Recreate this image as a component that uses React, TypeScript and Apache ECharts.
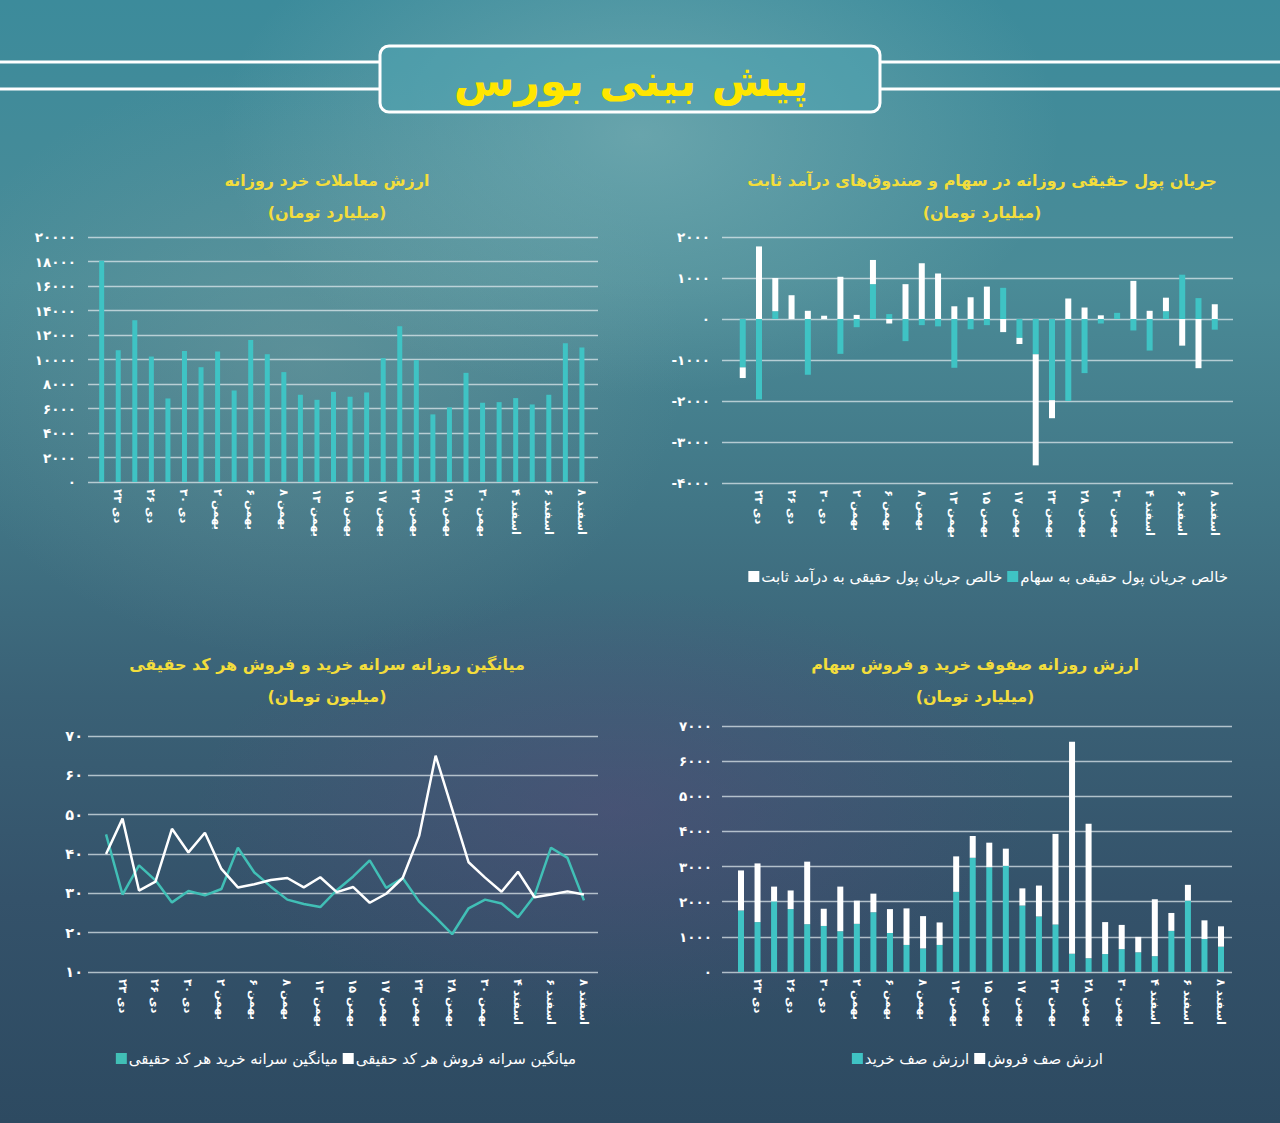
import React, { useEffect, useRef } from "react";
import * as echarts from "echarts";

const categories = [
  "۲۲ دی", "۲۳ دی", "۲۵ دی", "۲۶ دی", "۲۹ دی", "۳۰ دی",
  "۱ بهمن", "۲ بهمن", "۳ بهمن", "۶ بهمن", "۷ بهمن", "۸ بهمن",
  "۱۰ بهمن", "۱۳ بهمن", "۱۴ بهمن", "۱۵ بهمن", "۱۶ بهمن", "۱۷ بهمن",
  "۲۱ بهمن", "۲۳ بهمن", "۲۴ بهمن", "۲۸ بهمن", "۲۹ بهمن", "۳۰ بهمن",
  "۱ اسفند", "۴ اسفند", "۵ اسفند", "۶ اسفند", "۷ اسفند", "۸ اسفند",
];

// Chart 1: retail trading value (billion toman)
const retailValue = [
  18070, 10760, 13200, 10240, 6820, 10700, 9370, 10650, 7470, 11600,
  10430, 8970, 7120, 6710, 7360, 6960, 7310, 10110, 12720, 9950,
  5520, 6090, 8910, 6470, 6520, 6850, 6330, 7120, 11330, 10980,
];

// Chart 2: net real money flow (billion toman)
const flowStocks = [
  -1180, -1960, 190, 0, -1360, 0, -850, -200, 850, 120,
  -540, -150, -180, -1190, -250, -150, 760, -460, -860, -1980,
  -2000, -1320, -110, 150, -280, -770, 190, 1080, 510, -260,
];
const flowFixedIncome = [
  -260, 1770, 810, 580, 200, 80, 1030, 100, 590, -110,
  850, 1360, 1110, 310, 530, 790, -320, -150, -2710, -440,
  500, 280, 90, 0, 930, 200, 330, -650, -1200, 360,
];

// Chart 3: average per-capita buy / sell (million toman)
const avgBuy = [
  45.0, 29.7, 37.1, 33.3, 27.7, 30.6, 29.5, 31.1, 41.6, 35.3,
  31.7, 28.4, 27.3, 26.5, 30.8, 34.3, 38.4, 31.4, 33.9, 27.9,
  23.9, 19.6, 26.2, 28.4, 27.4, 23.9, 29.4, 41.6, 39.0, 28.2,
];
const avgSell = [
  40.0, 49.0, 30.7, 33.0, 46.4, 40.4, 45.4, 36.2, 31.5, 32.3,
  33.4, 33.9, 31.5, 34.1, 30.3, 31.6, 27.6, 29.9, 33.9, 44.6,
  65.0, 51.4, 37.9, 34.0, 30.4, 35.5, 29.0, 29.7, 30.5, 29.7,
];

// Chart 4: buy / sell queue value (billion toman)
const queueBuy = [
  1750, 1420, 2010, 1790, 1360, 1310, 1160, 1370, 1700, 1110,
  770, 670, 770, 2280, 3250, 2980, 3020, 1890, 1580, 1350,
  520, 390, 510, 650, 560, 450, 1170, 2030, 940, 720,
];
const queueSell = [
  1140, 1670, 420, 530, 1780, 490, 1270, 660, 530, 680,
  1040, 920, 640, 1010, 620, 700, 490, 490, 880, 2580,
  6030, 3830, 910, 690, 440, 1620, 510, 450, 530, 580,
];

const TEAL = "#3fc3c4";
const LINE_TEAL = "#41bfb6";
const FONT = "'DejaVu Sans', sans-serif";
const YELLOW = "#f3dd3c";

const toFa = (v: number | string) =>
  String(v).replace(/\d/g, (d) => "۰۱۲۳۴۵۶۷۸۹"[Number(d)]);

type Box = { left: number; width: number; top: number; height: number };

function frameAxes(
  grid: Box,
  gridIndex: number,
  min: number,
  max: number,
  interval: number,
  labelSize: number,
  labelMargin: number
) {
  return {
    grid: { left: grid.left, width: grid.width, top: grid.top, height: grid.height },
    xAxis: { type: "value", gridIndex, show: false, min: 0, max: 1 },
    yAxis: {
      type: "value",
      gridIndex,
      min,
      max,
      interval,
      axisLine: { show: false },
      axisTick: { show: false },
      axisLabel: {
        color: "#ffffff",
        fontFamily: FONT,
        fontWeight: "bold",
        fontSize: labelSize,
        margin: labelMargin,
        formatter: (v: number) => toFa(v),
      },
      splitLine: { lineStyle: { color: "rgba(225,234,238,0.72)", width: 1.3 } },
    },
  };
}

function plotAxes(
  left: number,
  width: number,
  frame: Box,
  gridIndex: number,
  min: number,
  max: number
) {
  return {
    grid: { left, width, top: frame.top, height: frame.height },
    xAxis: {
      type: "category",
      gridIndex,
      data: categories,
      boundaryGap: true,
      axisLine: { show: false },
      axisTick: { show: false },
      splitLine: { show: false },
      axisLabel: {
        color: "#ffffff",
        fontFamily: FONT,
        fontSize: 11.5,
        fontWeight: "bold",
        rotate: -90,
        margin: 7,
        interval: (index: number) => index % 2 === 1,
      },
    },
    yAxis: { type: "value", gridIndex, min, max, show: false, splitLine: { show: false } },
  };
}

export default function App() {
  const ref = useRef<HTMLDivElement>(null);

  useEffect(() => {
    if (!ref.current) return;
    const chart = echarts.init(ref.current, undefined, { renderer: "svg" });

    const f1: Box = { left: 88, width: 510, top: 237, height: 245 };
    const f2: Box = { left: 722, width: 511, top: 237, height: 246 };
    const f3: Box = { left: 88, width: 510, top: 736, height: 236 };
    const f4: Box = { left: 722, width: 510, top: 726, height: 246 };

    const parts = [
      frameAxes(f1, 0, 0, 20000, 2000, 13.5, 12),
      plotAxes(93.4, 496.8, f1, 1, 0, 20000),
      frameAxes(f2, 2, -4000, 2000, 1000, 13.5, 12),
      plotAxes(734.6, 488.3, f2, 3, -4000, 2000),
      frameAxes(f3, 4, 10, 70, 10, 14.5, 5),
      plotAxes(97.8, 494.4, f3, 5, 10, 70),
      frameAxes(f4, 6, 0, 7000, 1000, 13.5, 10),
      plotAxes(732.7, 496.6, f4, 7, 0, 7000),
    ];

    const nStocks = "خالص جریان پول حقیقی به سهام";
    const nFixed = "خالص جریان پول حقیقی به درآمد ثابت";
    const nBuyAvg = "میانگین سرانه خرید هر کد حقیقی";
    const nSellAvg = "میانگین سرانه فروش هر کد حقیقی";
    const nBuyQ = "ارزش صف خرید";
    const nSellQ = "ارزش صف فروش";

    const legendBase = {
      orient: "horizontal",
      icon: "rect",
      itemWidth: 11,
      itemHeight: 11,
      itemGap: 5,
      textStyle: { color: "#ffffff", fontFamily: FONT, fontSize: 15, padding: [0, 0, 0, -3] },
    };

    const titleText = (x: number, y: number, text: string, size = 16) => ({
      type: "text",
      x,
      y,
      style: {
        text,
        fill: YELLOW,
        font: `bold ${size}px ${FONT}`,
        textAlign: "center",
        textVerticalAlign: "middle",
      },
    });

    const hLine = (x1: number, x2: number, y: number) => ({
      type: "line",
      shape: { x1, y1: y, x2, y2: y },
      style: { stroke: "#ffffff", lineWidth: 3 },
    });

    chart.setOption({
      animation: false,
      backgroundColor: "transparent",
      textStyle: { fontFamily: FONT },
      grid: parts.map((p) => p.grid),
      xAxis: parts.map((p) => p.xAxis),
      yAxis: parts.map((p) => p.yAxis),
      legend: [
        { ...legendBase, data: [nFixed, nStocks], right: 47, top: 564 },
        { ...legendBase, data: [nBuyAvg, nSellAvg], right: 699, top: 1046 },
        { ...legendBase, data: [nBuyQ, nSellQ], right: 172, top: 1046 },
      ],
      series: [
        {
          type: "bar",
          name: "ارزش معاملات خرد",
          xAxisIndex: 1,
          yAxisIndex: 1,
          data: retailValue,
          barWidth: 5,
          itemStyle: { color: TEAL },
        },
        {
          type: "bar",
          name: nStocks,
          xAxisIndex: 3,
          yAxisIndex: 3,
          stack: "flow",
          data: flowStocks,
          barWidth: 6,
          itemStyle: { color: TEAL },
        },
        {
          type: "bar",
          name: nFixed,
          xAxisIndex: 3,
          yAxisIndex: 3,
          stack: "flow",
          data: flowFixedIncome,
          barWidth: 6,
          itemStyle: { color: "#ffffff" },
        },
        {
          type: "line",
          name: nBuyAvg,
          xAxisIndex: 5,
          yAxisIndex: 5,
          data: avgBuy,
          symbol: "none",
          itemStyle: { color: LINE_TEAL },
          lineStyle: { color: LINE_TEAL, width: 2.5 },
        },
        {
          type: "line",
          name: nSellAvg,
          xAxisIndex: 5,
          yAxisIndex: 5,
          data: avgSell,
          symbol: "none",
          itemStyle: { color: "#ffffff" },
          lineStyle: { color: "#ffffff", width: 2.5 },
        },
        {
          type: "bar",
          name: nBuyQ,
          xAxisIndex: 7,
          yAxisIndex: 7,
          stack: "queue",
          data: queueBuy,
          barWidth: 6,
          itemStyle: { color: TEAL },
        },
        {
          type: "bar",
          name: nSellQ,
          xAxisIndex: 7,
          yAxisIndex: 7,
          stack: "queue",
          data: queueSell,
          barWidth: 6,
          itemStyle: { color: "#ffffff" },
        },
      ],
      graphic: [
        hLine(0, 379, 62),
        hLine(0, 379, 89),
        hLine(881, 1280, 62),
        hLine(881, 1280, 89),
        {
          type: "rect",
          shape: { x: 380, y: 46, width: 500, height: 66, r: 9 },
          style: { fill: "rgba(80,165,180,0.5)", stroke: "#ffffff", lineWidth: 3 },
        },
        {
          type: "text",
          x: 631,
          y: 80,
          style: {
            text: "پیش بینی بورس",
            fill: "#ffe600",
            font: `bold 44px ${FONT}`,
            textAlign: "center",
            textVerticalAlign: "middle",
          },
        },
        titleText(327, 180, "ارزش معاملات خرد روزانه"),
        titleText(327, 212, "(میلیارد تومان)"),
        titleText(982, 180, "جریان پول حقیقی روزانه در سهام و صندوق‌های درآمد ثابت"),
        titleText(982, 212, "(میلیارد تومان)"),
        titleText(327, 664, "میانگین روزانه سرانه خرید و فروش هر کد حقیقی"),
        titleText(327, 696, "(میلیون تومان)"),
        titleText(975, 664, "ارزش روزانه صفوف خرید و فروش سهام"),
        titleText(975, 696, "(میلیارد تومان)"),
      ],
    });

    return () => chart.dispose();
  }, []);

  return (
    <div
      style={{
        position: "fixed",
        left: 0,
        top: 0,
        width: 1280,
        height: 1123,
        background:
          "radial-gradient(ellipse 420px 260px at 50% 12%, rgba(150,195,195,0.45), rgba(150,195,195,0) 100%)," +
          "radial-gradient(ellipse 380px 300px at 24% 32%, rgba(130,165,165,0.35), rgba(130,165,165,0) 100%)," +
          "radial-gradient(ellipse 420px 220px at 48% 72%, rgba(95,75,125,0.40), rgba(95,75,125,0) 100%)," +
          "linear-gradient(180deg, #3c8b9b 0%, #4a8b97 25%, #417686 45%, #3a6176 62%, #34526a 80%, #2d4a61 100%)",
      }}
    >
      <div ref={ref} style={{ width: 1280, height: 1123 }} />
    </div>
  );
}
